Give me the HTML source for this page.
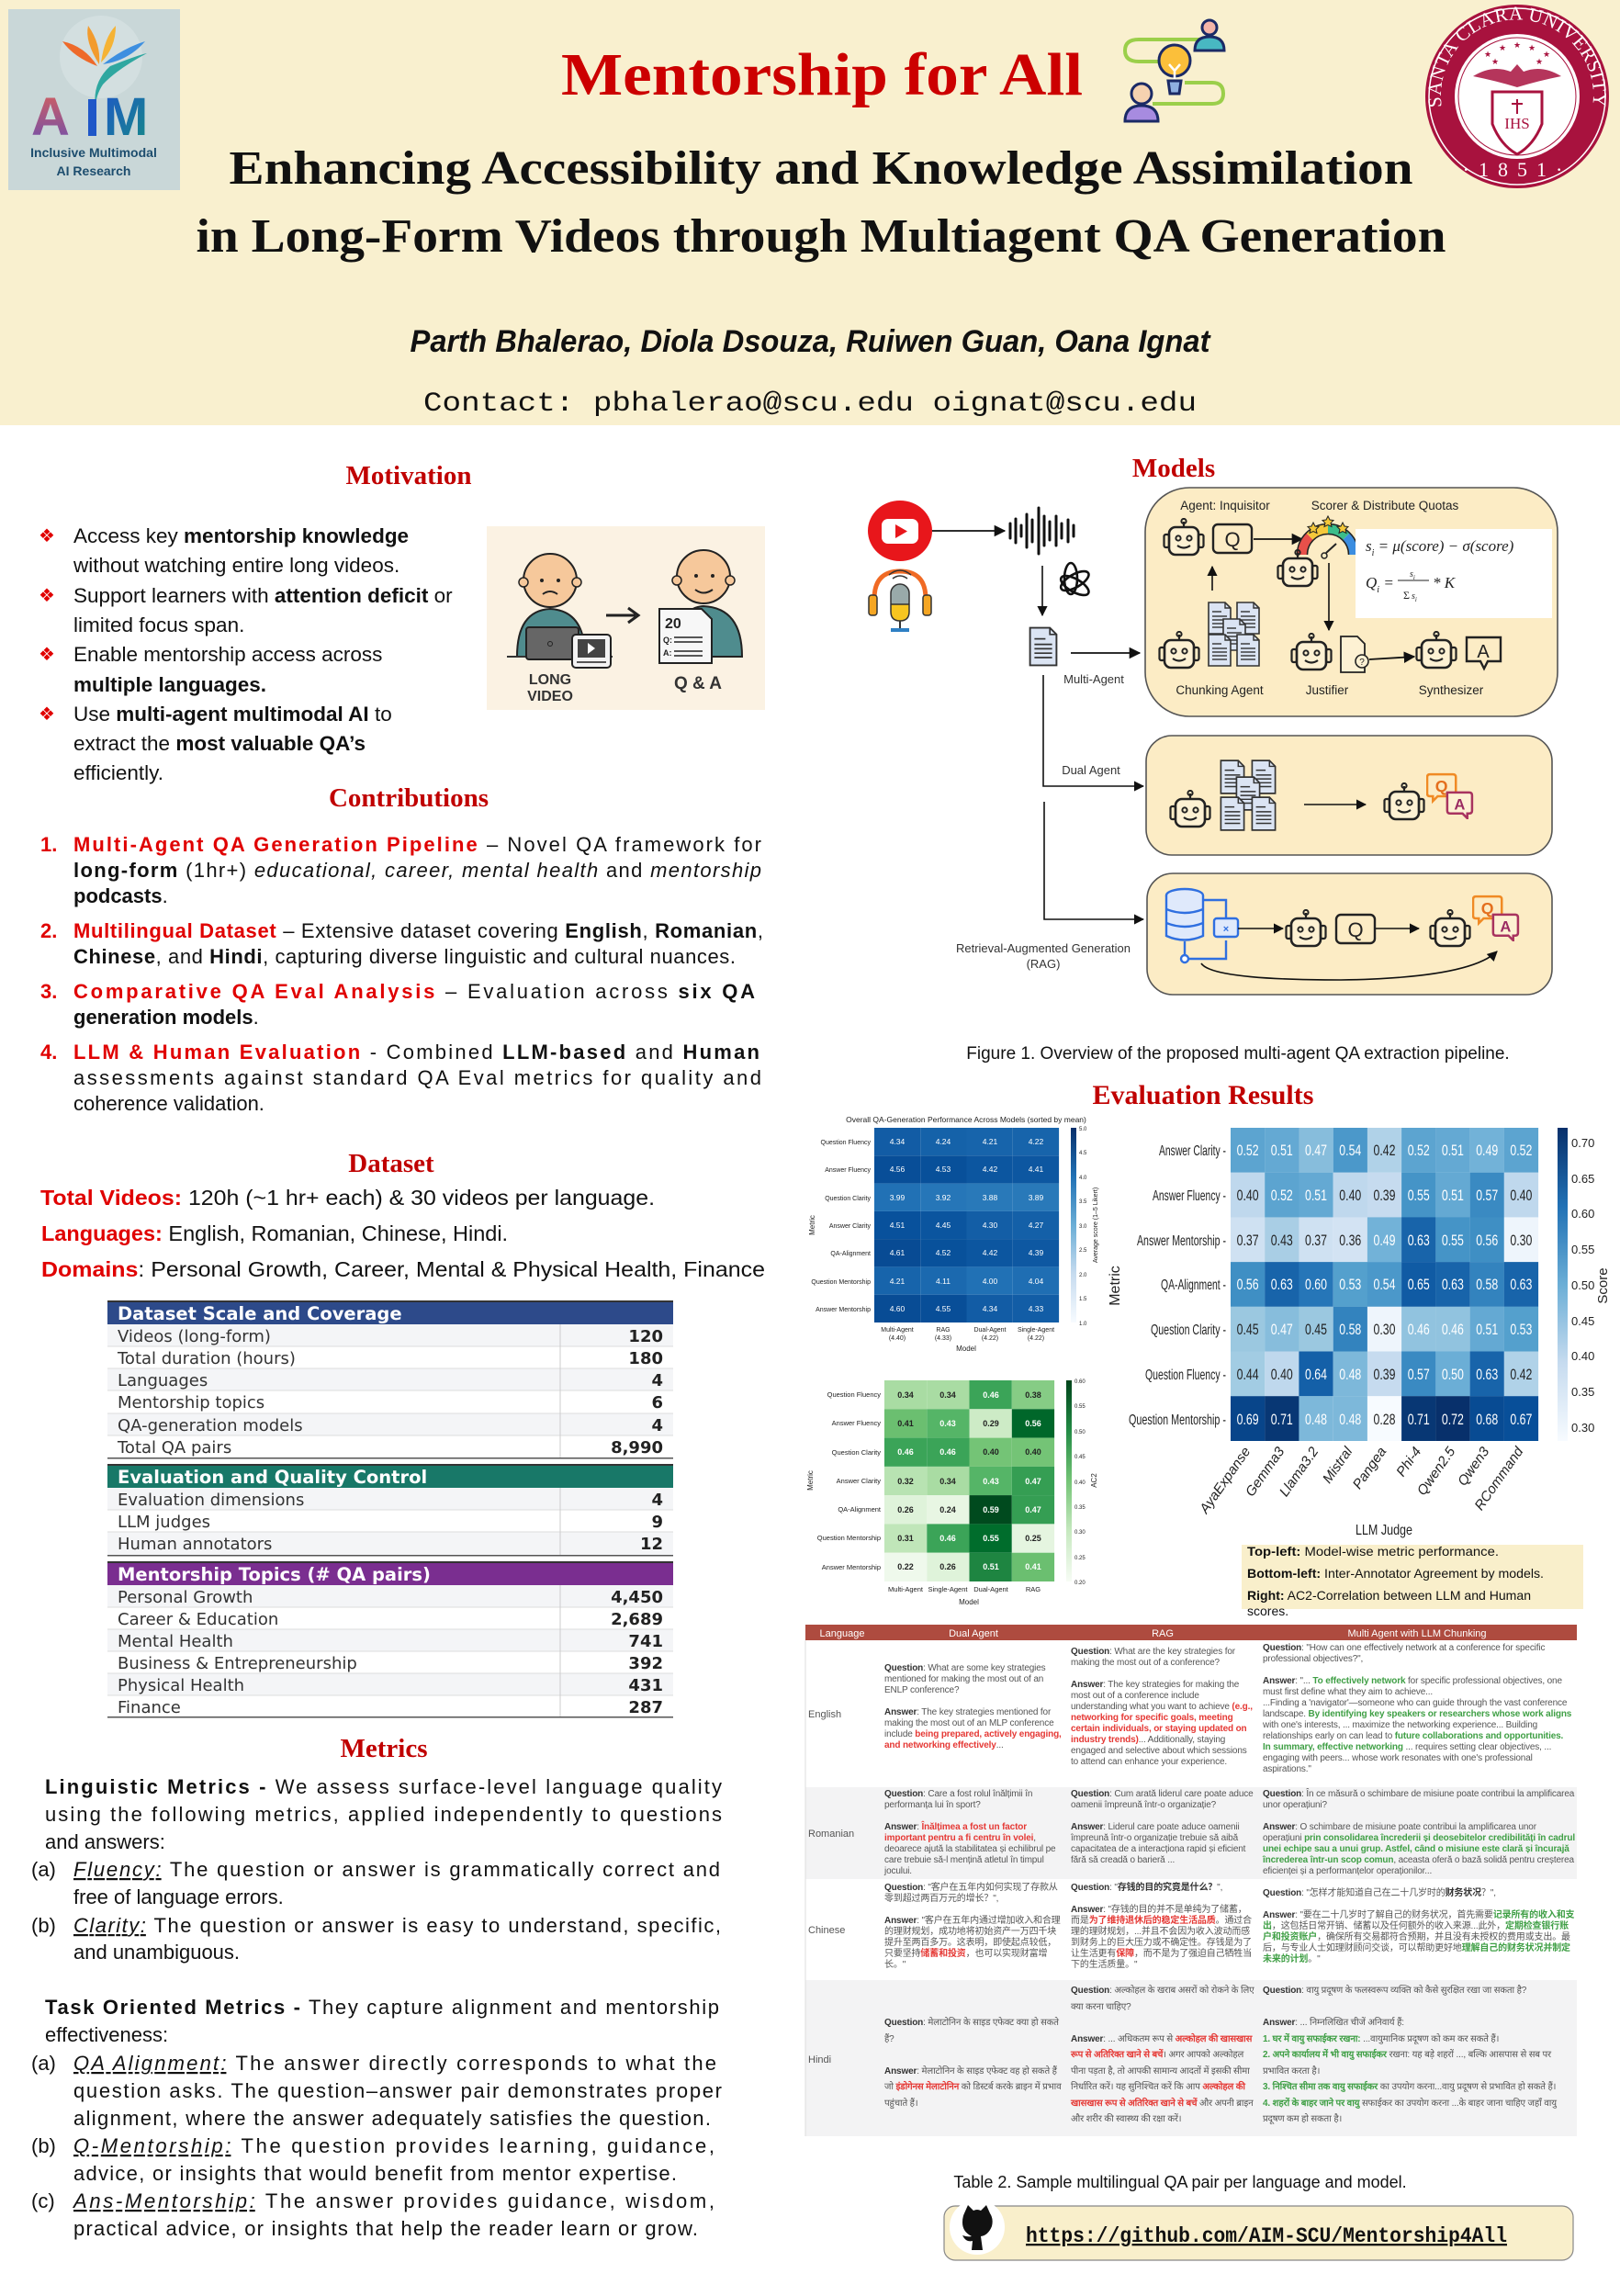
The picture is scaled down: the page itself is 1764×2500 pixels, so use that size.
<!DOCTYPE html>
<html><head><meta charset="utf-8">
<style>
html,body{margin:0;padding:0;background:#fff;}
#pg{position:relative;width:1764px;height:2500px;overflow:hidden;background:#fff;font-family:"Liberation Sans",sans-serif;}
#pg svg{position:absolute;left:0;top:0;}
.c{position:absolute;font-family:"Liberation Sans","Noto Sans CJK SC","Noto Sans CJK JP",sans-serif;font-size:10px;line-height:12px;color:#555;letter-spacing:-0.15px;}
.c b{color:#333;}
.r{color:#e53935;font-weight:bold;}
.g{color:#3f9f45;font-weight:bold;}
.hi{line-height:17.5px;}
</style></head><body><div id="pg">
<svg width="1764" height="2500" viewBox="0 0 1764 2500" xmlns="http://www.w3.org/2000/svg" font-family="Liberation Sans, sans-serif">
<defs>
<marker id="ar" viewBox="0 0 10 10" refX="9" refY="5" markerWidth="7" markerHeight="7" orient="auto"><path d="M0,0 L10,5 L0,10 z" fill="#111"/></marker>
<symbol id="rb" viewBox="0 0 50 46">
<line x1="25" y1="4" x2="25" y2="10" stroke="#222" stroke-width="2.2"/>
<circle cx="25" cy="3.5" r="2.6" fill="none" stroke="#222" stroke-width="2"/>
<rect x="9" y="10" width="32" height="30" rx="7" fill="#fdf1d3" stroke="#222" stroke-width="2.6"/>
<rect x="3.5" y="18" width="5.5" height="14" rx="2" fill="none" stroke="#222" stroke-width="2.2"/>
<rect x="41" y="18" width="5.5" height="14" rx="2" fill="none" stroke="#222" stroke-width="2.2"/>
<circle cx="19" cy="22" r="2.6" fill="none" stroke="#222" stroke-width="2"/>
<circle cx="31" cy="22" r="2.6" fill="none" stroke="#222" stroke-width="2"/>
<path d="M18 30 Q25 35 32 30" fill="none" stroke="#222" stroke-width="2.2"/>
</symbol>
<symbol id="doc" viewBox="0 0 30 40">
<path d="M3 3 H21 L27 9 V37 H3 Z" fill="#dbe4f3" stroke="#333" stroke-width="1.6"/>
<path d="M21 3 V9 H27" fill="none" stroke="#333" stroke-width="1.4"/>
<g stroke="#333" stroke-width="1.4"><line x1="7" y1="13" x2="17" y2="13"/><line x1="7" y1="18" x2="23" y2="18"/><line x1="7" y1="22" x2="23" y2="22"/><line x1="7" y1="26" x2="23" y2="26"/><line x1="7" y1="30" x2="23" y2="30"/></g>
</symbol>
<symbol id="qa" viewBox="0 0 50 50">
<path d="M4 3 H28 Q31 3 31 6 V23 Q31 26 28 26 H12 L7 31 V26 H4 Q1 26 1 23 V6 Q1 3 4 3 Z" fill="none" stroke="#f08a24" stroke-width="2.4"/>
<text x="16" y="21" text-anchor="middle" font-size="17" fill="#e46f1e" font-weight="bold">Q</text>
<path d="M22 22 H45 Q48 22 48 25 V41 Q48 44 45 44 H43 V49 L38 44 H25 Q22 44 22 41 Z" fill="#fdf1d3" stroke="#a8335f" stroke-width="2.4"/>
<text x="35" y="40" text-anchor="middle" font-size="16" fill="#9a2b62" font-weight="bold">A</text>
</symbol>
<linearGradient id="cbB" x1="0" y1="1" x2="0" y2="0"><stop offset="0" stop-color="#f7fbff"/><stop offset=".25" stop-color="#c6dbef"/><stop offset=".5" stop-color="#6baed6"/><stop offset=".75" stop-color="#2171b5"/><stop offset="1" stop-color="#08306b"/></linearGradient>
<linearGradient id="cbG" x1="0" y1="1" x2="0" y2="0"><stop offset="0" stop-color="#f7fcf5"/><stop offset=".25" stop-color="#c7e9c0"/><stop offset=".5" stop-color="#74c476"/><stop offset=".75" stop-color="#238b45"/><stop offset="1" stop-color="#00441b"/></linearGradient>
<linearGradient id="aimA" x1="0" y1="0" x2="0" y2="1"><stop offset="0" stop-color="#d9605a"/><stop offset="1" stop-color="#6b4fb0"/></linearGradient>
<linearGradient id="aimM" x1="0" y1="0" x2="1" y2="1"><stop offset="0" stop-color="#1f57c8"/><stop offset="1" stop-color="#168a86"/></linearGradient>
<path id="sealArc" d="M1577,140 A83,83 0 1,1 1727,140"/>
</defs>

<!-- HEADER -->
<rect x="0" y="0" width="1764" height="463" fill="#f9f0cf"/>
<rect x="9" y="10" width="187" height="197" fill="#c9d7d8"/>
<circle cx="110" cy="62" r="45" fill="#d3dfe0"/>
<path d="M108 70 Q92 45 96 28 Q110 48 108 70Z" fill="#f29b2e"/>
<path d="M110 68 Q114 40 126 28 Q126 52 110 68Z" fill="#f5b335"/>
<path d="M106 72 Q80 62 68 45 Q92 50 106 72Z" fill="#ee6a2a"/>
<path d="M112 70 Q135 52 158 45 Q140 66 112 70Z" fill="#3d8fe0"/>
<path d="M104 118 Q100 90 120 72 Q150 60 160 58 Q128 75 112 92 Q104 104 104 118Z" fill="#2fa7a0"/>
<text x="34" y="147" font-size="58" font-weight="bold" fill="url(#aimA)">A</text>
<rect x="96" y="108" width="9" height="40" fill="#1f57c8"/>
<text x="113" y="147" font-size="58" font-weight="bold" fill="url(#aimM)">M</text>
<text x="102" y="171" font-size="14" font-weight="bold" fill="#1d4d6e" text-anchor="middle">Inclusive Multimodal</text>
<text x="102" y="191" font-size="14" font-weight="bold" fill="#1d4d6e" text-anchor="middle">AI Research</text>

<text x="895" y="103" font-family="Liberation Serif, serif" font-weight="bold" font-size="66" fill="#cc0000" text-anchor="middle" textLength="568" lengthAdjust="spacingAndGlyphs">Mentorship for All</text>
<path d="M1312 43 H1240 Q1225 43 1225 55 Q1225 67 1240 67 H1262" fill="none" stroke="#9bcf4a" stroke-width="4"/>
<path d="M1290 90 H1320 Q1332 90 1332 102 Q1332 113 1320 113 H1255" fill="none" stroke="#9bcf4a" stroke-width="4"/>
<circle cx="1317" cy="30" r="8" fill="#f4b5a8" stroke="#1b2a66" stroke-width="3"/>
<path d="M1301 55 Q1301 40 1317 40 Q1333 40 1333 55 Z" fill="#48b8c2" stroke="#1b2a66" stroke-width="3"/>
<circle cx="1279" cy="66" r="17" fill="#fbbf3a" stroke="#1b2a66" stroke-width="3"/>
<path d="M1272 88 H1286 L1284 102 H1274 Z" fill="#8fb0e0" stroke="#1b2a66" stroke-width="3"/>
<path d="M1273 70 L1279 77 L1285 70 M1279 77 V86" stroke="#fff" stroke-width="2.5" fill="none"/>
<circle cx="1243" cy="102" r="11" fill="#f6d2b0" stroke="#1b2a66" stroke-width="3"/>
<path d="M1225 132 Q1225 115 1243 115 Q1261 115 1261 132 Z" fill="#a78be0" stroke="#1b2a66" stroke-width="3"/>

<text x="894" y="200" font-family="Liberation Serif, serif" font-weight="bold" font-size="52" fill="#111" text-anchor="middle" textLength="1289" lengthAdjust="spacingAndGlyphs">Enhancing Accessibility and Knowledge Assimilation</text>
<text x="894" y="274" font-family="Liberation Serif, serif" font-weight="bold" font-size="52" fill="#111" text-anchor="middle" textLength="1361" lengthAdjust="spacingAndGlyphs">in Long-Form Videos through Multiagent QA Generation</text>
<text x="882" y="383" font-weight="bold" font-style="italic" font-size="34" fill="#111" text-anchor="middle" textLength="871" lengthAdjust="spacingAndGlyphs">Parth Bhalerao, Diola Dsouza, Ruiwen Guan, Oana Ignat</text>
<text x="882" y="447" font-family="Liberation Mono, monospace" font-size="30" fill="#111" text-anchor="middle" textLength="842" lengthAdjust="spacingAndGlyphs">Contact: pbhalerao@scu.edu oignat@scu.edu</text>
<!-- SCU seal -->
<circle cx="1652" cy="105" r="100" fill="#a8123e"/>
<circle cx="1652" cy="105" r="96" fill="none" stroke="#fff" stroke-width="1.5"/>
<circle cx="1652" cy="105" r="68" fill="#fff"/>
<circle cx="1652" cy="105" r="64" fill="none" stroke="#a8123e" stroke-width="1"/>
<text font-family="Liberation Serif, serif" font-size="21" fill="#fff" letter-spacing="0.5"><textPath href="#sealArc" startOffset="50%" text-anchor="middle">SANTA CLARA UNIVERSITY</textPath></text>
<text x="1652" y="192" font-family="Liberation Serif, serif" font-size="22" fill="#fff" text-anchor="middle" letter-spacing="10">·1851·</text>
<path d="M1604 83 Q1625 70 1645 78 L1652 70 L1659 78 Q1679 70 1700 83 Q1675 88 1652 95 Q1629 88 1604 83Z" fill="#a8123e" opacity=".85"/>
<path d="M1625 100 H1679 V135 Q1670 158 1652 168 Q1634 158 1625 135 Z" fill="#fff" stroke="#a8123e" stroke-width="3"/>
<text x="1652" y="140" font-family="Liberation Serif, serif" font-size="17" fill="#a8123e" text-anchor="middle">IHS</text>
<line x1="1652" y1="108" x2="1652" y2="124" stroke="#a8123e" stroke-width="2"/><line x1="1646" y1="113" x2="1658" y2="113" stroke="#a8123e" stroke-width="2"/>
<g fill="#a8123e" font-size="9" text-anchor="middle"><text x="1620" y="62">★</text><text x="1636" y="55">★</text><text x="1652" y="52">★</text><text x="1668" y="55">★</text><text x="1684" y="62">★</text><text x="1628" y="70">★</text><text x="1676" y="70">★</text></g>

<g font-family="Liberation Serif, serif" font-weight="bold" font-size="29" fill="#c00000" text-anchor="middle">
<text x="445" y="527">Motivation</text>
<text x="445" y="878">Contributions</text>
<text x="426" y="1276">Dataset</text>
<text x="418" y="1913">Metrics</text>
<text x="1278" y="519">Models</text>
<text x="1310" y="1202" font-size="30">Evaluation Results</text>
</g>
<g font-size="22.5" fill="#111">
<g fill="#e00000" font-size="20"><text x="42" y="590">❖</text><text x="42" y="655">❖</text><text x="42" y="719">❖</text><text x="42" y="784">❖</text></g>
<text x="80" y="591">Access key <tspan font-weight="bold">mentorship knowledge</tspan></text>
<text x="80" y="623">without watching entire long videos.</text>
<text x="80" y="656">Support learners with <tspan font-weight="bold">attention deficit</tspan> or</text>
<text x="80" y="688">limited focus span.</text>
<text x="80" y="720">Enable mentorship access across</text>
<text x="80" y="753" font-weight="bold">multiple languages.</text>
<text x="80" y="785">Use <tspan font-weight="bold">multi-agent multimodal AI</tspan> to</text>
<text x="80" y="817">extract the <tspan font-weight="bold">most valuable QA’s</tspan></text>
<text x="80" y="849">efficiently.</text>
</g>
<rect x="530" y="573" width="303" height="200" fill="#fbf2e3"/>
<path d="M563 715 Q563 665 599 663 Q637 665 637 715Z" fill="#4f8c8e" stroke="#222" stroke-width="2"/>
<circle cx="599" cy="632" r="29" fill="#f6c89b" stroke="#222" stroke-width="2"/>
<circle cx="570" cy="634" r="5" fill="#f6c89b" stroke="#222" stroke-width="1.5"/><circle cx="628" cy="634" r="5" fill="#f6c89b" stroke="#222" stroke-width="1.5"/>
<circle cx="590" cy="632" r="2" fill="#222"/><circle cx="608" cy="632" r="2" fill="#222"/>
<path d="M591 647 Q599 641 607 647" fill="none" stroke="#222" stroke-width="2"/>
<line x1="552" y1="715" x2="667" y2="715" stroke="#333" stroke-width="2"/>
<rect x="573" y="683" width="57" height="35" rx="3" fill="#666" stroke="#222" stroke-width="2"/>
<circle cx="599" cy="701" r="2.5" fill="none" stroke="#222"/>
<rect x="623" y="691" width="42" height="36" rx="4" fill="#f3f3f3" stroke="#222" stroke-width="2"/>
<rect x="629" y="696" width="30" height="20" fill="#444"/><path d="M640 700 L648 706 L640 712Z" fill="#fff"/>
<line x1="628" y1="721" x2="660" y2="721" stroke="#222" stroke-width="1.5"/>
<text x="599" y="745" font-size="16" font-weight="bold" fill="#333" text-anchor="middle">LONG</text>
<text x="599" y="763" font-size="16" font-weight="bold" fill="#333" text-anchor="middle">VIDEO</text>
<line x1="660" y1="670" x2="692" y2="670" stroke="#222" stroke-width="3"/><path d="M684 662 L695 670 L684 678" fill="none" stroke="#222" stroke-width="3"/>
<path d="M735 715 Q735 662 766 660 Q808 662 808 715Z" fill="#4f8c8e" stroke="#222" stroke-width="2"/>
<circle cx="766" cy="628" r="29" fill="#f6c89b" stroke="#222" stroke-width="2"/>
<circle cx="737" cy="632" r="5" fill="#f6c89b" stroke="#222" stroke-width="1.5"/><circle cx="795" cy="632" r="5" fill="#f6c89b" stroke="#222" stroke-width="1.5"/>
<circle cx="758" cy="627" r="2" fill="#222"/><circle cx="776" cy="627" r="2" fill="#222"/>
<path d="M757 642 Q766 649 776 642" fill="none" stroke="#222" stroke-width="2"/>
<path d="M718 663 H764 L775 674 V722 H718Z" fill="#f7f7f7" stroke="#222" stroke-width="2"/>
<text x="724" y="684" font-size="16" font-weight="bold" fill="#222">20</text>
<text x="722" y="700" font-size="9" font-weight="bold" fill="#222">Q:</text><text x="722" y="714" font-size="9" font-weight="bold" fill="#222">A:</text>
<g stroke="#222" stroke-width="1.4"><line x1="734" y1="694" x2="765" y2="694"/><line x1="734" y1="699" x2="765" y2="699"/><line x1="734" y1="709" x2="765" y2="709"/><line x1="734" y1="714" x2="765" y2="714"/></g>
<text x="760" y="750" font-size="19" font-weight="bold" fill="#333" text-anchor="middle">Q &amp; A</text>

<g font-size="22" fill="#111">
<g fill="#e00000" font-weight="bold"><text x="44" y="927">1.</text><text x="44" y="1021">2.</text><text x="44" y="1087">3.</text><text x="44" y="1153">4.</text></g>
<text x="80" y="927" textLength="749" lengthAdjust="spacing"><tspan fill="#e00000" font-weight="bold">Multi-Agent QA Generation Pipeline</tspan> – Novel QA framework for</text>
<text x="80" y="955" textLength="749" lengthAdjust="spacing"><tspan font-weight="bold">long-form</tspan> (1hr+) <tspan font-style="italic">educational, career, mental health</tspan> and <tspan font-style="italic">mentorship</tspan></text>
<text x="80" y="983"><tspan font-weight="bold">podcasts</tspan>.</text>
<text x="80" y="1021" textLength="751" lengthAdjust="spacing"><tspan fill="#e00000" font-weight="bold">Multilingual Dataset</tspan> – Extensive dataset covering <tspan font-weight="bold">English</tspan>, <tspan font-weight="bold">Romanian</tspan>,</text>
<text x="80" y="1049" textLength="721" lengthAdjust="spacing"><tspan font-weight="bold">Chinese</tspan>, and <tspan font-weight="bold">Hindi</tspan>, capturing diverse linguistic and cultural nuances.</text>
<text x="80" y="1087" textLength="742" lengthAdjust="spacing"><tspan fill="#e00000" font-weight="bold">Comparative QA Eval Analysis</tspan> – Evaluation across <tspan font-weight="bold">six QA</tspan></text>
<text x="80" y="1115"><tspan font-weight="bold">generation models</tspan>.</text>
<text x="80" y="1153" textLength="747" lengthAdjust="spacing"><tspan fill="#e00000" font-weight="bold">LLM &amp; Human Evaluation</tspan> - Combined <tspan font-weight="bold">LLM-based</tspan> and <tspan font-weight="bold">Human</tspan></text>
<text x="80" y="1181" textLength="749" lengthAdjust="spacing">assessments against standard QA Eval metrics for quality and</text>
<text x="80" y="1209">coherence validation.</text>
</g>
<g font-size="23.5" fill="#111">
<text x="44" y="1312" textLength="669" lengthAdjust="spacingAndGlyphs"><tspan fill="#e00000" font-weight="bold">Total Videos:</tspan> 120h (~1 hr+ each) &amp; 30 videos per language.</text>
<text x="45" y="1351"><tspan fill="#e00000" font-weight="bold">Languages:</tspan> English, Romanian, Chinese, Hindi.</text>
<text x="45" y="1390" textLength="788" lengthAdjust="spacingAndGlyphs"><tspan fill="#e00000" font-weight="bold">Domains</tspan>: Personal Growth, Career, Mental &amp; Physical Health, Finance</text>
</g>
<g font-family="DejaVu Sans, sans-serif" font-size="18">
<rect x="117" y="1416" width="616" height="2.5" fill="#333"/>
<rect x="117" y="1418" width="616" height="24" fill="#2d4a8a"/>
<text x="128" y="1437" fill="#fff" font-weight="bold" font-size="19.5">Dataset Scale and Coverage</text>
<g fill="#f4f5f7"><rect x="117" y="1442" width="616" height="24"/><rect x="117" y="1490" width="616" height="24"/><rect x="117" y="1539" width="616" height="24"/></g>
<g stroke="#ddd"><line x1="117" y1="1466" x2="733" y2="1466"/><line x1="117" y1="1490" x2="733" y2="1490"/><line x1="117" y1="1514" x2="733" y2="1514"/><line x1="117" y1="1539" x2="733" y2="1539"/><line x1="117" y1="1563" x2="733" y2="1563"/></g>
<line x1="610" y1="1442" x2="610" y2="1587" stroke="#ccc"/>
<rect x="117" y="1587" width="616" height="1.5" fill="#555"/>
<g fill="#333"><text x="128" y="1461">Videos (long-form)</text><text x="128" y="1485">Total duration (hours)</text><text x="128" y="1509">Languages</text><text x="128" y="1533">Mentorship topics</text><text x="128" y="1558">QA-generation models</text><text x="128" y="1582">Total QA pairs</text></g>
<g fill="#222" font-weight="bold" text-anchor="end"><text x="722" y="1461">120</text><text x="722" y="1485">180</text><text x="722" y="1509">4</text><text x="722" y="1533">6</text><text x="722" y="1558">4</text><text x="722" y="1582">8,990</text></g>
<rect x="117" y="1594" width="616" height="2.5" fill="#333"/>
<rect x="117" y="1596" width="616" height="24" fill="#187868"/>
<text x="128" y="1615" fill="#fff" font-weight="bold" font-size="19.5">Evaluation and Quality Control</text>
<g fill="#f4f5f7"><rect x="117" y="1620" width="616" height="24"/><rect x="117" y="1668" width="616" height="25"/></g>
<g stroke="#ddd"><line x1="117" y1="1644" x2="733" y2="1644"/><line x1="117" y1="1668" x2="733" y2="1668"/></g>
<line x1="610" y1="1620" x2="610" y2="1693" stroke="#ccc"/>
<rect x="117" y="1693" width="616" height="1.5" fill="#555"/>
<g fill="#333"><text x="128" y="1639">Evaluation dimensions</text><text x="128" y="1663">LLM judges</text><text x="128" y="1687">Human annotators</text></g>
<g fill="#222" font-weight="bold" text-anchor="end"><text x="722" y="1639">4</text><text x="722" y="1663">9</text><text x="722" y="1687">12</text></g>
<rect x="117" y="1700" width="616" height="2.5" fill="#333"/>
<rect x="117" y="1702" width="616" height="24" fill="#7a2e90"/>
<text x="128" y="1721" fill="#fff" font-weight="bold" font-size="19.5">Mentorship Topics (# QA pairs)</text>
<g fill="#f4f5f7"><rect x="117" y="1726" width="616" height="24"/><rect x="117" y="1774" width="616" height="24"/><rect x="117" y="1822" width="616" height="24"/></g>
<g stroke="#ddd"><line x1="117" y1="1750" x2="733" y2="1750"/><line x1="117" y1="1774" x2="733" y2="1774"/><line x1="117" y1="1798" x2="733" y2="1798"/><line x1="117" y1="1822" x2="733" y2="1822"/><line x1="117" y1="1846" x2="733" y2="1846"/></g>
<line x1="610" y1="1726" x2="610" y2="1870" stroke="#ccc"/>
<rect x="117" y="1869" width="616" height="1.5" fill="#555"/>
<g fill="#333"><text x="128" y="1745">Personal Growth</text><text x="128" y="1769">Career &amp; Education</text><text x="128" y="1793">Mental Health</text><text x="128" y="1817">Business &amp; Entrepreneurship</text><text x="128" y="1841">Physical Health</text><text x="128" y="1865">Finance</text></g>
<g fill="#222" font-weight="bold" text-anchor="end"><text x="722" y="1745">4,450</text><text x="722" y="1769">2,689</text><text x="722" y="1793">741</text><text x="722" y="1817">392</text><text x="722" y="1841">431</text><text x="722" y="1865">287</text></g>
</g>
<g font-size="22" fill="#111">
<text x="49" y="1953" textLength="737" lengthAdjust="spacing"><tspan font-weight="bold">Linguistic Metrics -</tspan> We assess surface-level language quality</text>
<text x="49" y="1983" textLength="737" lengthAdjust="spacing">using the following metrics, applied independently to questions</text>
<text x="49" y="2013">and answers:</text>
<text x="34" y="2043">(a)</text>
<text x="80" y="2043" textLength="704" lengthAdjust="spacing"><tspan font-style="italic" text-decoration="underline">Fluency:</tspan> The question or answer is grammatically correct and</text>
<text x="80" y="2073">free of language errors.</text>
<text x="34" y="2104">(b)</text>
<text x="80" y="2104" textLength="705" lengthAdjust="spacing"><tspan font-style="italic" text-decoration="underline">Clarity:</tspan> The question or answer is easy to understand, specific,</text>
<text x="80" y="2133">and unambiguous.</text>
<text x="49" y="2193" textLength="734" lengthAdjust="spacing"><tspan font-weight="bold">Task Oriented Metrics -</tspan> They capture alignment and mentorship</text>
<text x="49" y="2223">effectiveness:</text>
<text x="34" y="2254">(a)</text>
<text x="80" y="2254" textLength="700" lengthAdjust="spacing"><tspan font-style="italic" text-decoration="underline">QA Alignment:</tspan> The answer directly corresponds to what the</text>
<text x="80" y="2284" textLength="706" lengthAdjust="spacing">question asks. The question–answer pair demonstrates proper</text>
<text x="80" y="2314" textLength="694" lengthAdjust="spacing">alignment, where the answer adequately satisfies the question.</text>
<text x="34" y="2344">(b)</text>
<text x="80" y="2344" textLength="698" lengthAdjust="spacing"><tspan font-style="italic" text-decoration="underline">Q-Mentorship:</tspan> The question provides learning, guidance,</text>
<text x="80" y="2374" textLength="657" lengthAdjust="spacing">advice, or insights that would benefit from mentor expertise.</text>
<text x="34" y="2404">(c)</text>
<text x="80" y="2404" textLength="698" lengthAdjust="spacing"><tspan font-style="italic" text-decoration="underline">Ans-Mentorship:</tspan> The answer provides guidance, wisdom,</text>
<text x="80" y="2434" textLength="680" lengthAdjust="spacing">practical advice, or insights that help the reader learn or grow.</text>
</g>

<!-- MODELS PIPELINE -->
<rect x="1247" y="531" width="449" height="249" rx="48" fill="#fcecc5" stroke="#555" stroke-width="1.6"/>
<rect x="1248" y="801" width="442" height="130" rx="28" fill="#fcecc5" stroke="#555" stroke-width="1.6"/>
<rect x="1249" y="951" width="441" height="132" rx="28" fill="#fcecc5" stroke="#555" stroke-width="1.6"/>
<ellipse cx="980" cy="578" rx="35" ry="33" fill="#e8161b"/>
<rect x="960" y="565" width="40" height="27" rx="7" fill="#fff"/>
<path d="M975 571 L988 578.5 L975 586Z" fill="#e8161b"/>
<line x1="1015" y1="578" x2="1094" y2="578" stroke="#111" stroke-width="1.8" marker-end="url(#ar)"/>
<path d="M952 668 V652 Q952 622 980 622 Q1008 622 1008 652 V668" fill="none" stroke="#f06a24" stroke-width="5"/>
<rect x="946" y="648" width="9" height="22" rx="3" fill="#f5a623" stroke="#333" stroke-width="1.5"/>
<rect x="1005" y="648" width="9" height="22" rx="3" fill="#f5a623" stroke="#333" stroke-width="1.5"/>
<rect x="970" y="636" width="20" height="30" rx="10" fill="#9aa" stroke="#333" stroke-width="1.5"/>
<path d="M970 658 H990 V666 Q990 676 980 676 Q970 676 970 666Z" fill="#f7c520" stroke="#333" stroke-width="1.5"/>
<line x1="980" y1="676" x2="980" y2="684" stroke="#333" stroke-width="2"/><rect x="970" y="684" width="20" height="4" fill="#2f80c4"/>
<path d="M972 630 Q980 624 988 630 M968 626 Q980 616 992 626" fill="none" stroke="#333" stroke-width="1.5"/>
<g stroke="#111" stroke-width="3" stroke-linecap="round">
<line x1="1100" y1="570" x2="1100" y2="586"/><line x1="1106" y1="565" x2="1106" y2="591"/><line x1="1112" y1="572" x2="1112" y2="584"/><line x1="1118" y1="560" x2="1118" y2="596"/><line x1="1124" y1="566" x2="1124" y2="590"/><line x1="1131" y1="553" x2="1131" y2="603"/><line x1="1137" y1="562" x2="1137" y2="594"/><line x1="1143" y1="568" x2="1143" y2="588"/><line x1="1150" y1="562" x2="1150" y2="594"/><line x1="1156" y1="570" x2="1156" y2="586"/><line x1="1163" y1="566" x2="1163" y2="590"/><line x1="1169" y1="572" x2="1169" y2="584"/>
</g>
<line x1="1135" y1="616" x2="1135" y2="670" stroke="#111" stroke-width="1.6" marker-end="url(#ar)"/>
<g transform="translate(1166,635)" fill="none" stroke="#111" stroke-width="2.6">
<ellipse rx="7" ry="17" transform="rotate(0) translate(0,-5)"/><ellipse rx="7" ry="17" transform="rotate(60) translate(0,-5)"/><ellipse rx="7" ry="17" transform="rotate(120) translate(0,-5)"/>
</g>
<use href="#doc" x="1117" y="680" width="38" height="48"/>
<line x1="1166" y1="711" x2="1241" y2="711" stroke="#111" stroke-width="1.8" marker-end="url(#ar)"/>
<path d="M1136 735 V856 H1245" fill="none" stroke="#111" stroke-width="1.6" marker-end="url(#ar)"/>
<path d="M1137 873 V1001 H1245" fill="none" stroke="#111" stroke-width="1.6" marker-end="url(#ar)"/>
<g font-size="13" fill="#333" text-anchor="middle">
<text x="1191" y="744">Multi-Agent</text>
<text x="1188" y="843">Dual Agent</text>
<text x="1136" y="1037">Retrieval-Augmented Generation</text>
<text x="1136" y="1054">(RAG)</text>
</g>
<g font-size="13.5" fill="#222" text-anchor="middle">
<text x="1334" y="555">Agent: Inquisitor</text>
<text x="1508" y="555">Scorer &amp; Distribute Quotas</text>
<text x="1328" y="756">Chunking Agent</text>
<text x="1445" y="756">Justifier</text>
<text x="1580" y="756">Synthesizer</text>
</g>
<use href="#rb" x="1264" y="564" width="50" height="46"/>
<rect x="1321" y="571" width="42" height="31" rx="5" fill="none" stroke="#222" stroke-width="2.4"/>
<text x="1342" y="595" font-size="22" fill="#222" text-anchor="middle">Q</text>
<line x1="1365" y1="587" x2="1418" y2="587" stroke="#111" stroke-width="1.8" marker-end="url(#ar)"/>
<g transform="translate(1446,604)" fill="none" stroke-width="11">
<path d="M-28 0 A28 28 0 0 1 -19.8 -19.8" stroke="#e8504a"/>
<path d="M-19.8 -19.8 A28 28 0 0 1 0 -28" stroke="#f5c83a"/>
<path d="M0 -28 A28 28 0 0 1 19.8 -19.8" stroke="#3bbd8a"/>
<path d="M19.8 -19.8 A28 28 0 0 1 28 0" stroke="#3b8de0"/>
<path d="M-33.5 0 A33.5 33.5 0 0 1 33.5 0 M-22.5 0 A22.5 22.5 0 0 1 22.5 0" stroke="#222" stroke-width="1.5"/>
<line x1="-2" y1="-2" x2="9" y2="-12" stroke="#222" stroke-width="2"/>
<circle cx="-4" cy="1" r="3" stroke="#222" stroke-width="1.5"/>
</g>
<g fill="#f5c83a" stroke="#222" stroke-width="1"><path d="M1430 569 l2 4 4 .5 -3 3 1 4 -4 -2 -4 2 1 -4 -3 -3 4 -.5z"/><path d="M1446 562 l2 4 4 .5 -3 3 1 4 -4 -2 -4 2 1 -4 -3 -3 4 -.5z"/><path d="M1462 569 l2 4 4 .5 -3 3 1 4 -4 -2 -4 2 1 -4 -3 -3 4 -.5z"/></g>
<use href="#rb" x="1388" y="598" width="50" height="46"/>
<rect x="1476" y="576" width="214" height="97" fill="#fff"/>
<g font-family="Liberation Serif, serif" font-size="17" fill="#222" font-style="italic">
<text x="1487" y="600">s<tspan font-size="10" dy="5">i</tspan><tspan dy="-5"> =  μ(score) −  σ(score)</tspan></text>
<text x="1487" y="640">Q<tspan font-size="10" dy="5">i</tspan><tspan dy="-5"> =</tspan></text>
<text x="1535" y="628" font-size="10">s<tspan font-size="7" dy="3">i</tspan></text>
<line x1="1522" y1="632" x2="1556" y2="632" stroke="#222" stroke-width="1"/>
<text x="1560" y="640">* K</text>
<text x="1528" y="652" font-size="12" font-style="normal">Σ</text><text x="1537" y="652" font-size="10">s<tspan font-size="7" dy="3">i</tspan></text>
</g>
<line x1="1320" y1="643" x2="1320" y2="617" stroke="#111" stroke-width="1.6" marker-end="url(#ar)"/>
<line x1="1447" y1="613" x2="1447" y2="686" stroke="#111" stroke-width="1.6" marker-end="url(#ar)"/>
<use href="#doc" x="1313" y="653" width="30" height="40"/>
<use href="#doc" x="1344" y="653" width="30" height="40"/>
<use href="#doc" x="1329" y="671" width="30" height="40"/>
<use href="#doc" x="1313" y="688" width="30" height="40"/>
<use href="#doc" x="1344" y="688" width="30" height="40"/>
<use href="#rb" x="1259" y="687" width="50" height="46"/>
<use href="#rb" x="1403" y="689" width="50" height="46"/>
<path d="M1460 693 H1478 L1486 701 V732 H1460Z" fill="#fdf1d3" stroke="#222" stroke-width="1.8"/>
<circle cx="1483" cy="720" r="7" fill="#fdf1d3" stroke="#222" stroke-width="1.6"/><text x="1483" y="724" font-size="10" text-anchor="middle" fill="#222">?</text>
<line x1="1491" y1="718" x2="1540" y2="715" stroke="#111" stroke-width="1.8" marker-end="url(#ar)"/>
<use href="#rb" x="1539" y="687" width="50" height="46"/>
<path d="M1597 694 H1634 V720 H1620 L1616 728 L1612 720 H1597Z" fill="none" stroke="#222" stroke-width="2.4"/>
<text x="1615" y="716" font-size="20" fill="#222" text-anchor="middle">A</text>
<use href="#doc" x="1326" y="825" width="32" height="42"/><use href="#doc" x="1360" y="825" width="32" height="42"/>
<use href="#doc" x="1343" y="843" width="32" height="42"/>
<use href="#doc" x="1326" y="865" width="32" height="42"/><use href="#doc" x="1360" y="865" width="32" height="42"/>
<use href="#rb" x="1271" y="860" width="50" height="46"/>
<line x1="1420" y1="876" x2="1487" y2="876" stroke="#111" stroke-width="1.6" marker-end="url(#ar)"/>
<use href="#rb" x="1504" y="852" width="50" height="46"/>
<use href="#qa" x="1553" y="840" width="52" height="52"/>
<g fill="#dfe9fb" stroke="#2f6fe0" stroke-width="2.4">
<ellipse cx="1290" cy="975" rx="20" ry="7"/>
<path d="M1270 975 V1019 Q1290 1028 1310 1019 V975"/>
<path d="M1270 990 Q1290 998 1310 990 M1270 1005 Q1290 1013 1310 1005" fill="none"/>
<path d="M1310 980 H1335 V1010 M1290 1025 V1040 M1294 1044 H1335 V1024" fill="none"/>
<circle cx="1290" cy="1044" r="4" fill="#fff"/>
<rect x="1322" y="1000" width="26" height="20" rx="3"/>
</g>
<text x="1335" y="1015" font-size="11" fill="#2f6fe0" text-anchor="middle" font-weight="bold">×</text>
<line x1="1348" y1="1011" x2="1397" y2="1011" stroke="#111" stroke-width="1.6" marker-end="url(#ar)"/>
<use href="#rb" x="1397" y="990" width="50" height="46"/>
<rect x="1455" y="996" width="42" height="31" rx="5" fill="none" stroke="#222" stroke-width="2.4"/>
<text x="1476" y="1020" font-size="22" fill="#222" text-anchor="middle">Q</text>
<line x1="1498" y1="1011" x2="1545" y2="1011" stroke="#111" stroke-width="1.6" marker-end="url(#ar)"/>
<use href="#rb" x="1554" y="990" width="50" height="46"/>
<use href="#qa" x="1603" y="973" width="52" height="52"/>
<path d="M1308 1049 Q1320 1067 1460 1067 Q1600 1065 1630 1036" fill="none" stroke="#111" stroke-width="1.6" marker-end="url(#ar)"/>
<text x="1348" y="1153" font-size="19" fill="#111" text-anchor="middle">Figure 1. Overview of the proposed multi-agent QA extraction pipeline.</text>

<!-- HEATMAP 1 -->
<text x="1052" y="1222" font-size="8.5" fill="#222" text-anchor="middle">Overall QA-Generation Performance Across Models (sorted by mean)</text>
<g>
<rect x="952" y="1228" width="50.3" height="30.3" fill="#125ca5"/><rect x="1002.3" y="1228" width="50.3" height="30.3" fill="#1562a9"/><rect x="1052.5" y="1228" width="50.3" height="30.3" fill="#1764ab"/><rect x="1102.8" y="1228" width="50.3" height="30.3" fill="#1764ab"/>
<rect x="952" y="1258.3" width="50.3" height="30.3" fill="#084e98"/><rect x="1002.3" y="1258.3" width="50.3" height="30.3" fill="#08509a"/><rect x="1052.5" y="1258.3" width="50.3" height="30.3" fill="#0c56a0"/><rect x="1102.8" y="1258.3" width="50.3" height="30.3" fill="#0d57a1"/>
<rect x="952" y="1288.6" width="50.3" height="30.3" fill="#2171b5"/><rect x="1002.3" y="1288.6" width="50.3" height="30.3" fill="#2676b8"/><rect x="1052.5" y="1288.6" width="50.3" height="30.3" fill="#2979b9"/><rect x="1102.8" y="1288.6" width="50.3" height="30.3" fill="#2979b9"/>
<rect x="952" y="1318.9" width="50.3" height="30.3" fill="#08519c"/><rect x="1002.3" y="1318.9" width="50.3" height="30.3" fill="#0b559f"/><rect x="1052.5" y="1318.9" width="50.3" height="30.3" fill="#135ea6"/><rect x="1102.8" y="1318.9" width="50.3" height="30.3" fill="#1460a8"/>
<rect x="952" y="1349.1" width="50.3" height="30.3" fill="#084b94"/><rect x="1002.3" y="1349.1" width="50.3" height="30.3" fill="#08519b"/><rect x="1052.5" y="1349.1" width="50.3" height="30.3" fill="#0c56a0"/><rect x="1102.8" y="1349.1" width="50.3" height="30.3" fill="#0e58a2"/>
<rect x="952" y="1379.4" width="50.3" height="30.3" fill="#1764ab"/><rect x="1002.3" y="1379.4" width="50.3" height="30.3" fill="#1b69af"/><rect x="1052.5" y="1379.4" width="50.3" height="30.3" fill="#2171b5"/><rect x="1102.8" y="1379.4" width="50.3" height="30.3" fill="#1f6eb3"/>
<rect x="952" y="1409.7" width="50.3" height="30.3" fill="#084c95"/><rect x="1002.3" y="1409.7" width="50.3" height="30.3" fill="#084e98"/><rect x="1052.5" y="1409.7" width="50.3" height="30.3" fill="#125ca5"/><rect x="1102.8" y="1409.7" width="50.3" height="30.3" fill="#125da6"/>
</g>
<g font-size="8.5" fill="#fff" text-anchor="middle">
<text x="977" y="1246">4.34</text><text x="1027" y="1246">4.24</text><text x="1078" y="1246">4.21</text><text x="1128" y="1246">4.22</text>
<text x="977" y="1276">4.56</text><text x="1027" y="1276">4.53</text><text x="1078" y="1276">4.42</text><text x="1128" y="1276">4.41</text>
<text x="977" y="1307">3.99</text><text x="1027" y="1307">3.92</text><text x="1078" y="1307">3.88</text><text x="1128" y="1307">3.89</text>
<text x="977" y="1337">4.51</text><text x="1027" y="1337">4.45</text><text x="1078" y="1337">4.30</text><text x="1128" y="1337">4.27</text>
<text x="977" y="1367">4.61</text><text x="1027" y="1367">4.52</text><text x="1078" y="1367">4.42</text><text x="1128" y="1367">4.39</text>
<text x="977" y="1398">4.21</text><text x="1027" y="1398">4.11</text><text x="1078" y="1398">4.00</text><text x="1128" y="1398">4.04</text>
<text x="977" y="1428">4.60</text><text x="1027" y="1428">4.55</text><text x="1078" y="1428">4.34</text><text x="1128" y="1428">4.33</text>
</g>
<g font-size="7" fill="#222" text-anchor="end">
<text x="948" y="1246">Question Fluency</text><text x="948" y="1276">Answer Fluency</text><text x="948" y="1307">Question Clarity</text><text x="948" y="1337">Answer Clarity</text><text x="948" y="1367">QA-Alignment</text><text x="948" y="1398">Question Mentorship</text><text x="948" y="1428">Answer Mentorship</text>
</g>
<g font-size="7" fill="#222" text-anchor="middle">
<text x="977" y="1450">Multi-Agent</text><text x="977" y="1459">(4.40)</text><text x="1027" y="1450">RAG</text><text x="1027" y="1459">(4.33)</text><text x="1078" y="1450">Dual-Agent</text><text x="1078" y="1459">(4.22)</text><text x="1128" y="1450">Single-Agent</text><text x="1128" y="1459">(4.22)</text>
<text x="1052" y="1471" font-size="8">Model</text>
<text transform="translate(887,1334) rotate(-90)" font-size="8">Metric</text>
<text transform="translate(1195,1334) rotate(-90)" font-size="7">Average score (1–5 Likert)</text>
</g>
<rect x="1166" y="1228" width="6" height="212" fill="url(#cbB)"/>
<g font-size="6" fill="#222"><text x="1175" y="1231">5.0</text><text x="1175" y="1257">4.5</text><text x="1175" y="1284">4.0</text><text x="1175" y="1310">3.5</text><text x="1175" y="1337">3.0</text><text x="1175" y="1363">2.5</text><text x="1175" y="1390">2.0</text><text x="1175" y="1416">1.5</text><text x="1175" y="1443">1.0</text></g>

<!-- HEATMAP 2 -->
<g>
<rect x="963" y="1503" width="46.3" height="31.3" fill="#a9dca3"/><rect x="1009.3" y="1503" width="46.3" height="31.3" fill="#a9dca3"/><rect x="1055.5" y="1503" width="46.3" height="31.3" fill="#3ba458"/><rect x="1101.8" y="1503" width="46.3" height="31.3" fill="#86cc85"/>
<rect x="963" y="1534.3" width="46.3" height="31.3" fill="#6bbf70"/><rect x="1009.3" y="1534.3" width="46.3" height="31.3" fill="#55b567"/><rect x="1055.5" y="1534.3" width="46.3" height="31.3" fill="#cdebc6"/><rect x="1101.8" y="1534.3" width="46.3" height="31.3" fill="#00672a"/>
<rect x="963" y="1565.6" width="46.3" height="31.3" fill="#3ba458"/><rect x="1009.3" y="1565.6" width="46.3" height="31.3" fill="#3ba458"/><rect x="1055.5" y="1565.6" width="46.3" height="31.3" fill="#74c476"/><rect x="1101.8" y="1565.6" width="46.3" height="31.3" fill="#74c476"/>
<rect x="963" y="1596.9" width="46.3" height="31.3" fill="#b8e3b2"/><rect x="1009.3" y="1596.9" width="46.3" height="31.3" fill="#a9dca3"/><rect x="1055.5" y="1596.9" width="46.3" height="31.3" fill="#55b567"/><rect x="1101.8" y="1596.9" width="46.3" height="31.3" fill="#359e53"/>
<rect x="963" y="1628.1" width="46.3" height="31.3" fill="#dff3da"/><rect x="1009.3" y="1628.1" width="46.3" height="31.3" fill="#e8f6e3"/><rect x="1055.5" y="1628.1" width="46.3" height="31.3" fill="#004a1e"/><rect x="1101.8" y="1628.1" width="46.3" height="31.3" fill="#359e53"/>
<rect x="963" y="1659.4" width="46.3" height="31.3" fill="#c0e6b9"/><rect x="1009.3" y="1659.4" width="46.3" height="31.3" fill="#3ba458"/><rect x="1055.5" y="1659.4" width="46.3" height="31.3" fill="#006d2c"/><rect x="1101.8" y="1659.4" width="46.3" height="31.3" fill="#e5f5e0"/>
<rect x="963" y="1690.7" width="46.3" height="31.3" fill="#eff9ec"/><rect x="1009.3" y="1690.7" width="46.3" height="31.3" fill="#dff3da"/><rect x="1055.5" y="1690.7" width="46.3" height="31.3" fill="#1e8541"/><rect x="1101.8" y="1690.7" width="46.3" height="31.3" fill="#6bbf70"/>
</g>
<g font-size="9" font-weight="bold" text-anchor="middle" fill="#222">
<text x="986" y="1522">0.34</text><text x="1032" y="1522">0.34</text><text x="1079" y="1522" fill="#fff">0.46</text><text x="1125" y="1522">0.38</text>
<text x="986" y="1553">0.41</text><text x="1032" y="1553" fill="#fff">0.43</text><text x="1079" y="1553">0.29</text><text x="1125" y="1553" fill="#fff">0.56</text>
<text x="986" y="1584" fill="#fff">0.46</text><text x="1032" y="1584" fill="#fff">0.46</text><text x="1079" y="1584">0.40</text><text x="1125" y="1584">0.40</text>
<text x="986" y="1616">0.32</text><text x="1032" y="1616">0.34</text><text x="1079" y="1616" fill="#fff">0.43</text><text x="1125" y="1616" fill="#fff">0.47</text>
<text x="986" y="1647">0.26</text><text x="1032" y="1647">0.24</text><text x="1079" y="1647" fill="#fff">0.59</text><text x="1125" y="1647" fill="#fff">0.47</text>
<text x="986" y="1678">0.31</text><text x="1032" y="1678" fill="#fff">0.46</text><text x="1079" y="1678" fill="#fff">0.55</text><text x="1125" y="1678">0.25</text>
<text x="986" y="1709">0.22</text><text x="1032" y="1709">0.26</text><text x="1079" y="1709" fill="#fff">0.51</text><text x="1125" y="1709" fill="#fff">0.41</text>
</g>
<g font-size="7.5" fill="#222" text-anchor="end">
<text x="959" y="1521">Question Fluency</text><text x="959" y="1552">Answer Fluency</text><text x="959" y="1584">Question Clarity</text><text x="959" y="1615">Answer Clarity</text><text x="959" y="1646">QA-Alignment</text><text x="959" y="1677">Question Mentorship</text><text x="959" y="1709">Answer Mentorship</text>
</g>
<g font-size="7.5" fill="#222" text-anchor="middle">
<text x="986" y="1733">Multi-Agent</text><text x="1032" y="1733">Single-Agent</text><text x="1079" y="1733">Dual-Agent</text><text x="1125" y="1733">RAG</text>
<text x="1055" y="1747" font-size="8">Model</text>
<text transform="translate(885,1612) rotate(-90)" font-size="8">Metric</text>
<text transform="translate(1194,1612) rotate(-90)" font-size="8">AC2</text>
</g>
<rect x="1161" y="1503" width="6" height="219" fill="url(#cbG)"/>
<g font-size="6" fill="#222"><text x="1170" y="1506">0.60</text><text x="1170" y="1533">0.55</text><text x="1170" y="1561">0.50</text><text x="1170" y="1588">0.45</text><text x="1170" y="1616">0.40</text><text x="1170" y="1643">0.35</text><text x="1170" y="1670">0.30</text><text x="1170" y="1698">0.25</text><text x="1170" y="1725">0.20</text></g>

<!-- HEATMAP 3 -->
<g>
<rect x="1340" y="1228" width="37.3" height="48.8" fill="#5ca4d0"/><rect x="1377.2" y="1228" width="37.3" height="48.8" fill="#64a9d3"/><rect x="1414.4" y="1228" width="37.3" height="48.8" fill="#87bddc"/><rect x="1451.7" y="1228" width="37.3" height="48.8" fill="#4b98ca"/><rect x="1488.9" y="1228" width="37.3" height="48.8" fill="#b0d2e8"/><rect x="1526.1" y="1228" width="37.3" height="48.8" fill="#5ca4d0"/><rect x="1563.3" y="1228" width="37.3" height="48.8" fill="#64a9d3"/><rect x="1600.6" y="1228" width="37.3" height="48.8" fill="#72b2d8"/><rect x="1637.8" y="1228" width="37.3" height="48.8" fill="#5ca4d0"/>
<rect x="1340" y="1276.7" width="37.3" height="48.8" fill="#bfd8ed"/><rect x="1377.2" y="1276.7" width="37.3" height="48.8" fill="#5ca4d0"/><rect x="1414.4" y="1276.7" width="37.3" height="48.8" fill="#64a9d3"/><rect x="1451.7" y="1276.7" width="37.3" height="48.8" fill="#bfd8ed"/><rect x="1488.9" y="1276.7" width="37.3" height="48.8" fill="#c6dbef"/><rect x="1526.1" y="1276.7" width="37.3" height="48.8" fill="#4594c7"/><rect x="1563.3" y="1276.7" width="37.3" height="48.8" fill="#64a9d3"/><rect x="1600.6" y="1276.7" width="37.3" height="48.8" fill="#3a8ac2"/><rect x="1637.8" y="1276.7" width="37.3" height="48.8" fill="#bfd8ed"/>
<rect x="1340" y="1325.4" width="37.3" height="48.8" fill="#cfe1f2"/><rect x="1377.2" y="1325.4" width="37.3" height="48.8" fill="#a9cee5"/><rect x="1414.4" y="1325.4" width="37.3" height="48.8" fill="#cfe1f2"/><rect x="1451.7" y="1325.4" width="37.3" height="48.8" fill="#d3e3f3"/><rect x="1488.9" y="1325.4" width="37.3" height="48.8" fill="#72b2d8"/><rect x="1526.1" y="1325.4" width="37.3" height="48.8" fill="#1864aa"/><rect x="1563.3" y="1325.4" width="37.3" height="48.8" fill="#4594c7"/><rect x="1600.6" y="1325.4" width="37.3" height="48.8" fill="#3f8fc4"/><rect x="1637.8" y="1325.4" width="37.3" height="48.8" fill="#eef5fc"/>
<rect x="1340" y="1374.1" width="37.3" height="48.8" fill="#3f8fc4"/><rect x="1377.2" y="1374.1" width="37.3" height="48.8" fill="#1864aa"/><rect x="1414.4" y="1374.1" width="37.3" height="48.8" fill="#2676b8"/><rect x="1451.7" y="1374.1" width="37.3" height="48.8" fill="#54a0cd"/><rect x="1488.9" y="1374.1" width="37.3" height="48.8" fill="#4b98ca"/><rect x="1526.1" y="1374.1" width="37.3" height="48.8" fill="#105ba4"/><rect x="1563.3" y="1374.1" width="37.3" height="48.8" fill="#1864aa"/><rect x="1600.6" y="1374.1" width="37.3" height="48.8" fill="#3383be"/><rect x="1637.8" y="1374.1" width="37.3" height="48.8" fill="#1864aa"/>
<rect x="1340" y="1422.8" width="37.3" height="48.8" fill="#9bc8e0"/><rect x="1377.2" y="1422.8" width="37.3" height="48.8" fill="#87bddc"/><rect x="1414.4" y="1422.8" width="37.3" height="48.8" fill="#9bc8e0"/><rect x="1451.7" y="1422.8" width="37.3" height="48.8" fill="#3383be"/><rect x="1488.9" y="1422.8" width="37.3" height="48.8" fill="#eef5fc"/><rect x="1526.1" y="1422.8" width="37.3" height="48.8" fill="#91c3df"/><rect x="1563.3" y="1422.8" width="37.3" height="48.8" fill="#91c3df"/><rect x="1600.6" y="1422.8" width="37.3" height="48.8" fill="#64a9d3"/><rect x="1637.8" y="1422.8" width="37.3" height="48.8" fill="#54a0cd"/>
<rect x="1340" y="1471.5" width="37.3" height="48.8" fill="#a2cce3"/><rect x="1377.2" y="1471.5" width="37.3" height="48.8" fill="#bfd8ed"/><rect x="1414.4" y="1471.5" width="37.3" height="48.8" fill="#1460a8"/><rect x="1451.7" y="1471.5" width="37.3" height="48.8" fill="#7db8da"/><rect x="1488.9" y="1471.5" width="37.3" height="48.8" fill="#c6dbef"/><rect x="1526.1" y="1471.5" width="37.3" height="48.8" fill="#3a8ac2"/><rect x="1563.3" y="1471.5" width="37.3" height="48.8" fill="#6baed6"/><rect x="1600.6" y="1471.5" width="37.3" height="48.8" fill="#1864aa"/><rect x="1637.8" y="1471.5" width="37.3" height="48.8" fill="#b0d2e8"/>
<rect x="1340" y="1520.2" width="37.3" height="48.8" fill="#08458a"/><rect x="1377.2" y="1520.2" width="37.3" height="48.8" fill="#083774"/><rect x="1414.4" y="1520.2" width="37.3" height="48.8" fill="#7db8da"/><rect x="1451.7" y="1520.2" width="37.3" height="48.8" fill="#7db8da"/><rect x="1488.9" y="1520.2" width="37.3" height="48.8" fill="#f7fbff"/><rect x="1526.1" y="1520.2" width="37.3" height="48.8" fill="#083774"/><rect x="1563.3" y="1520.2" width="37.3" height="48.8" fill="#08306b"/><rect x="1600.6" y="1520.2" width="37.3" height="48.8" fill="#084b93"/><rect x="1637.8" y="1520.2" width="37.3" height="48.8" fill="#084f99"/>
</g>
<g font-size="17" fill="#fff" text-anchor="middle">
<text x="1358.6" y="1258" textLength="24" lengthAdjust="spacingAndGlyphs">0.52</text><text x="1395.8" y="1258" textLength="24" lengthAdjust="spacingAndGlyphs">0.51</text><text x="1433" y="1258" textLength="24" lengthAdjust="spacingAndGlyphs">0.47</text><text x="1470.3" y="1258" textLength="24" lengthAdjust="spacingAndGlyphs">0.54</text><text x="1507.5" y="1258" fill="#222" textLength="24" lengthAdjust="spacingAndGlyphs">0.42</text><text x="1544.7" y="1258" textLength="24" lengthAdjust="spacingAndGlyphs">0.52</text><text x="1581.9" y="1258" textLength="24" lengthAdjust="spacingAndGlyphs">0.51</text><text x="1619.2" y="1258" textLength="24" lengthAdjust="spacingAndGlyphs">0.49</text><text x="1656.4" y="1258" textLength="24" lengthAdjust="spacingAndGlyphs">0.52</text>
<text x="1358.6" y="1307" fill="#222" textLength="24" lengthAdjust="spacingAndGlyphs">0.40</text><text x="1395.8" y="1307" textLength="24" lengthAdjust="spacingAndGlyphs">0.52</text><text x="1433" y="1307" textLength="24" lengthAdjust="spacingAndGlyphs">0.51</text><text x="1470.3" y="1307" fill="#222" textLength="24" lengthAdjust="spacingAndGlyphs">0.40</text><text x="1507.5" y="1307" fill="#222" textLength="24" lengthAdjust="spacingAndGlyphs">0.39</text><text x="1544.7" y="1307" textLength="24" lengthAdjust="spacingAndGlyphs">0.55</text><text x="1581.9" y="1307" textLength="24" lengthAdjust="spacingAndGlyphs">0.51</text><text x="1619.2" y="1307" textLength="24" lengthAdjust="spacingAndGlyphs">0.57</text><text x="1656.4" y="1307" fill="#222" textLength="24" lengthAdjust="spacingAndGlyphs">0.40</text>
<text x="1358.6" y="1356" fill="#222" textLength="24" lengthAdjust="spacingAndGlyphs">0.37</text><text x="1395.8" y="1356" fill="#222" textLength="24" lengthAdjust="spacingAndGlyphs">0.43</text><text x="1433" y="1356" fill="#222" textLength="24" lengthAdjust="spacingAndGlyphs">0.37</text><text x="1470.3" y="1356" fill="#222" textLength="24" lengthAdjust="spacingAndGlyphs">0.36</text><text x="1507.5" y="1356" textLength="24" lengthAdjust="spacingAndGlyphs">0.49</text><text x="1544.7" y="1356" textLength="24" lengthAdjust="spacingAndGlyphs">0.63</text><text x="1581.9" y="1356" textLength="24" lengthAdjust="spacingAndGlyphs">0.55</text><text x="1619.2" y="1356" textLength="24" lengthAdjust="spacingAndGlyphs">0.56</text><text x="1656.4" y="1356" fill="#222" textLength="24" lengthAdjust="spacingAndGlyphs">0.30</text>
<text x="1358.6" y="1404" textLength="24" lengthAdjust="spacingAndGlyphs">0.56</text><text x="1395.8" y="1404" textLength="24" lengthAdjust="spacingAndGlyphs">0.63</text><text x="1433" y="1404" textLength="24" lengthAdjust="spacingAndGlyphs">0.60</text><text x="1470.3" y="1404" textLength="24" lengthAdjust="spacingAndGlyphs">0.53</text><text x="1507.5" y="1404" textLength="24" lengthAdjust="spacingAndGlyphs">0.54</text><text x="1544.7" y="1404" textLength="24" lengthAdjust="spacingAndGlyphs">0.65</text><text x="1581.9" y="1404" textLength="24" lengthAdjust="spacingAndGlyphs">0.63</text><text x="1619.2" y="1404" textLength="24" lengthAdjust="spacingAndGlyphs">0.58</text><text x="1656.4" y="1404" textLength="24" lengthAdjust="spacingAndGlyphs">0.63</text>
<text x="1358.6" y="1453" fill="#222" textLength="24" lengthAdjust="spacingAndGlyphs">0.45</text><text x="1395.8" y="1453" textLength="24" lengthAdjust="spacingAndGlyphs">0.47</text><text x="1433" y="1453" fill="#222" textLength="24" lengthAdjust="spacingAndGlyphs">0.45</text><text x="1470.3" y="1453" textLength="24" lengthAdjust="spacingAndGlyphs">0.58</text><text x="1507.5" y="1453" fill="#222" textLength="24" lengthAdjust="spacingAndGlyphs">0.30</text><text x="1544.7" y="1453" textLength="24" lengthAdjust="spacingAndGlyphs">0.46</text><text x="1581.9" y="1453" textLength="24" lengthAdjust="spacingAndGlyphs">0.46</text><text x="1619.2" y="1453" textLength="24" lengthAdjust="spacingAndGlyphs">0.51</text><text x="1656.4" y="1453" textLength="24" lengthAdjust="spacingAndGlyphs">0.53</text>
<text x="1358.6" y="1502" fill="#222" textLength="24" lengthAdjust="spacingAndGlyphs">0.44</text><text x="1395.8" y="1502" fill="#222" textLength="24" lengthAdjust="spacingAndGlyphs">0.40</text><text x="1433" y="1502" textLength="24" lengthAdjust="spacingAndGlyphs">0.64</text><text x="1470.3" y="1502" textLength="24" lengthAdjust="spacingAndGlyphs">0.48</text><text x="1507.5" y="1502" fill="#222" textLength="24" lengthAdjust="spacingAndGlyphs">0.39</text><text x="1544.7" y="1502" textLength="24" lengthAdjust="spacingAndGlyphs">0.57</text><text x="1581.9" y="1502" textLength="24" lengthAdjust="spacingAndGlyphs">0.50</text><text x="1619.2" y="1502" textLength="24" lengthAdjust="spacingAndGlyphs">0.63</text><text x="1656.4" y="1502" fill="#222" textLength="24" lengthAdjust="spacingAndGlyphs">0.42</text>
<text x="1358.6" y="1551" textLength="24" lengthAdjust="spacingAndGlyphs">0.69</text><text x="1395.8" y="1551" textLength="24" lengthAdjust="spacingAndGlyphs">0.71</text><text x="1433" y="1551" textLength="24" lengthAdjust="spacingAndGlyphs">0.48</text><text x="1470.3" y="1551" textLength="24" lengthAdjust="spacingAndGlyphs">0.48</text><text x="1507.5" y="1551" fill="#222" textLength="24" lengthAdjust="spacingAndGlyphs">0.28</text><text x="1544.7" y="1551" textLength="24" lengthAdjust="spacingAndGlyphs">0.71</text><text x="1581.9" y="1551" textLength="24" lengthAdjust="spacingAndGlyphs">0.72</text><text x="1619.2" y="1551" textLength="24" lengthAdjust="spacingAndGlyphs">0.68</text><text x="1656.4" y="1551" textLength="24" lengthAdjust="spacingAndGlyphs">0.67</text>
</g>
<g font-size="16" fill="#222" text-anchor="end">
<text x="1335" y="1258" textLength="73" lengthAdjust="spacingAndGlyphs">Answer Clarity -</text>
<text x="1335" y="1307" textLength="80" lengthAdjust="spacingAndGlyphs">Answer Fluency -</text>
<text x="1335" y="1356" textLength="97" lengthAdjust="spacingAndGlyphs">Answer Mentorship -</text>
<text x="1335" y="1404" textLength="71" lengthAdjust="spacingAndGlyphs">QA-Alignment -</text>
<text x="1335" y="1453" textLength="82" lengthAdjust="spacingAndGlyphs">Question Clarity -</text>
<text x="1335" y="1502" textLength="88" lengthAdjust="spacingAndGlyphs">Question Fluency -</text>
<text x="1335" y="1551" textLength="106" lengthAdjust="spacingAndGlyphs">Question Mentorship -</text>
</g>
<g font-size="15" fill="#222" text-anchor="end" font-style="italic">
<text transform="translate(1362,1580) rotate(-55)">AyaExpanse</text>
<text transform="translate(1399,1580) rotate(-55)">Gemma3</text>
<text transform="translate(1436,1580) rotate(-55)">Llama3.2</text>
<text transform="translate(1473,1580) rotate(-55)">Mistral</text>
<text transform="translate(1510,1580) rotate(-55)">Pangea</text>
<text transform="translate(1548,1580) rotate(-55)">Phi-4</text>
<text transform="translate(1585,1580) rotate(-55)">Qwen2.5</text>
<text transform="translate(1622,1580) rotate(-55)">Qwen3</text>
<text transform="translate(1659,1580) rotate(-55)">RCommand</text>
</g>
<text x="1507" y="1671" font-size="16" fill="#222" text-anchor="middle" textLength="62" lengthAdjust="spacingAndGlyphs">LLM Judge</text>
<text transform="translate(1219,1400) rotate(-90)" font-size="16" fill="#222" text-anchor="middle">Metric</text>
<text transform="translate(1750,1400) rotate(-90)" font-size="15" fill="#222" text-anchor="middle">Score</text>
<rect x="1696" y="1228" width="11" height="341" fill="url(#cbB)"/>
<g font-size="13" fill="#222"><text x="1711" y="1249">0.70</text><text x="1711" y="1288">0.65</text><text x="1711" y="1326">0.60</text><text x="1711" y="1365">0.55</text><text x="1711" y="1404">0.50</text><text x="1711" y="1443">0.45</text><text x="1711" y="1481">0.40</text><text x="1711" y="1520">0.35</text><text x="1711" y="1559">0.30</text></g>
<rect x="1352" y="1682" width="372" height="70" fill="#f9efcb"/>
<g font-size="14" fill="#111">
<text x="1358" y="1694" textLength="274" lengthAdjust="spacingAndGlyphs"><tspan font-weight="bold">Top-left:</tspan> Model-wise metric performance.</text>
<text x="1358" y="1718" textLength="323" lengthAdjust="spacingAndGlyphs"><tspan font-weight="bold">Bottom-left:</tspan> Inter-Annotator Agreement by models.</text>
<text x="1358" y="1742" textLength="309" lengthAdjust="spacingAndGlyphs"><tspan font-weight="bold">Right:</tspan> AC2-Correlation between LLM and Human</text>
<text x="1358" y="1759">scores.</text>
</g>

<rect x="877" y="1769" width="840" height="17" fill="#ae4b3f"/>
<rect x="877" y="1946" width="840" height="100" fill="#f3f3f4"/>
<rect x="877" y="2156" width="840" height="170" fill="#f3f3f4"/>
<line x1="877" y1="1786" x2="877" y2="2326" stroke="#ddd"/>
<g font-size="11" fill="#fff" text-anchor="middle"><text x="917" y="1782">Language</text><text x="1060" y="1782">Dual Agent</text><text x="1266" y="1782">RAG</text><text x="1543" y="1782">Multi Agent with LLM Chunking</text></g>
<g font-size="11" fill="#555"><text x="880" y="1870">English</text><text x="880" y="2000">Romanian</text><text x="880" y="2105">Chinese</text><text x="880" y="2246">Hindi</text></g>
<text x="1285" y="2382" font-size="18" fill="#111" text-anchor="middle">Table 2. Sample multilingual QA pair per language and model.</text>
<rect x="1028" y="2402" width="685" height="59" rx="12" fill="#f9efcb" stroke="#888" stroke-width="1.2"/>
<circle cx="1064" cy="2425" r="30" fill="#fff"/>
<path d="M1050 2410 L1054 2401 L1060 2407 Q1064 2405 1068 2407 L1074 2401 L1078 2410 Q1082 2416 1080 2424 Q1076 2434 1068 2435 L1070 2450 H1058 L1059 2440 Q1052 2442 1048 2434 Q1054 2436 1058 2435 Q1048 2430 1048 2420 Q1048 2414 1050 2410Z" fill="#111"/>
<text x="1117" y="2441" font-family="Liberation Mono, monospace" font-size="23" font-weight="bold" fill="#111" text-decoration="underline" textLength="524" lengthAdjust="spacingAndGlyphs">https://github.com/AIM-SCU/Mentorship4All</text>
</svg>

<div class="c" style="left:963px;top:1811px;width:196px;"><b>Question</b>: What are some key strategies mentioned for making the most out of an ENLP conference?<br><br><b>Answer</b>: The key strategies mentioned for making the most out of an MLP conference include <span class="r">being prepared, actively engaging, and networking effectively</span>...</div>
<div class="c" style="left:1166px;top:1793px;width:200px;"><b>Question</b>: What are the key strategies for making the most out of a conference?<br><br><b>Answer</b>: The key strategies for making the most out of a conference include understanding what you want to achieve <span class="r">(e.g., networking for specific goals, meeting certain individuals, or staying updated on industry trends)</span>... Additionally, staying engaged and selective about which sessions to attend can enhance your experience.</div>
<div class="c" style="left:1375px;top:1789px;width:340px;"><b>Question</b>: "How can one effectively network at a conference for specific professional objectives?",<br><br><b>Answer</b>: "... <span class="g">To effectively network</span> for specific professional objectives, one must first define what they aim to achieve...<br>...Finding a 'navigator'—someone who can guide through the vast conference landscape. <span class="g">By identifying key speakers or researchers whose work aligns</span> with one's interests, ... maximize the networking experience... Building relationships early on can lead to <span class="g">future collaborations and opportunities.</span><br><span class="g">In summary, effective networking</span> ... requires setting clear objectives, ... engaging with peers... whose work resonates with one's professional aspirations."</div>

<div class="c" style="left:963px;top:1948px;width:196px;"><b>Question</b>: Care a fost rolul înălțimii în performanța lui în sport?<br><br><b>Answer</b>: <span class="r">Înălțimea a fost un factor important pentru a fi centru în volei</span>, deoarece ajută la stabilitatea și echilibrul pe care trebuie să-l mențină atletul în timpul jocului.</div>
<div class="c" style="left:1166px;top:1948px;width:200px;"><b>Question</b>: Cum arată liderul care poate aduce oamenii împreună într-o organizație?<br><br><b>Answer</b>: Liderul care poate aduce oamenii împreună într-o organizație trebuie să aibă capacitatea de a interacționa rapid și eficient fără să creadă o barieră ...</div>
<div class="c" style="left:1375px;top:1948px;width:340px;"><b>Question</b>: În ce măsură o schimbare de misiune poate contribui la amplificarea unor operațiuni?<br><br><b>Answer</b>: O schimbare de misiune poate contribui la amplificarea unor operațiuni <span class="g">prin consolidarea încrederii și deosebitelor credibilități în cadrul unei echipe sau a unui grup. Astfel, când o misiune este clară și încurajă încrederea într-un scop comun</span>, aceasta oferă o bază solidă pentru creșterea eficienței și a performanțelor operaționilor...</div>

<div class="c" style="left:963px;top:2050px;width:196px;"><b>Question</b>: "客户在五年内如何实现了存款从零到超过两百万元的增长？",<br><br><b>Answer</b>: "客户在五年内通过增加收入和合理的理财规划，成功地将初始资产一万四千块提升至两百多万。这表明，即使起点较低，只要坚持<span class="r">储蓄和投资</span>，也可以实现财富增长。"</div>
<div class="c" style="left:1166px;top:2050px;width:200px;"><b>Question</b>: "<b>存钱的目的究竟是什么？</b>",<br><br><b>Answer</b>: "存钱的目的并不是单纯为了储蓄，而是<span class="r">为了维持退休后的稳定生活品质</span>。通过合理的理财规划，...并且不会因为收入波动而感到财务上的巨大压力或不确定性。存钱是为了让生活更有<span class="r">保障</span>，而不是为了强迫自己牺牲当下的生活质量。"</div>
<div class="c" style="left:1375px;top:2056px;width:340px;"><b>Question</b>: "怎样才能知道自己在二十几岁时的<b>财务状况</b>？",<br><br><b>Answer</b>: "要在二十几岁时了解自己的财务状况，首先需要<span class="g">记录所有的收入和支出</span>，这包括日常开销、储蓄以及任何额外的收入来源...此外，<span class="g">定期检查银行账户和投资账户</span>，确保所有交易都符合预期，并且没有未授权的费用或支出。最后，与专业人士如理财顾问交谈，可以帮助更好地<span class="g">理解自己的财务状况并制定未来的计划</span>。"</div>

<div class="c hi" style="left:963px;top:2194px;width:196px;"><b>Question</b>: मेलाटोनिन के साइड एफेक्ट क्या हो सकते हैं?<br><br><b>Answer</b>: मेलाटोनिन के साइड एफेक्ट वह हो सकते हैं जो <span class="r">इंडोगेनस मेलाटोनिन</span> को डिस्टर्ब करके ब्राइन में प्रभाव पहुंचाते हैं।</div>
<div class="c hi" style="left:1166px;top:2159px;width:200px;"><b>Question</b>: अल्कोहल के खराब असरों को रोकने के लिए क्या करना चाहिए?<br><br><b>Answer</b>: ... अधिकतम रूप से <span class="r">अल्कोहल की खासखास रूप से अतिरिक्त खाने से बचें</span>। अगर आपको अल्कोहल पीना पड़ता है, तो आपकी सामान्य आदतों में इसकी सीमा निर्धारित करें। यह सुनिश्चित करें कि आप <span class="r">अल्कोहल की खासखास रूप से अतिरिक्त खाने से बचें</span> और अपनी ब्राइन और शरीर की स्वास्थ्य की रक्षा करें।</div>
<div class="c hi" style="left:1375px;top:2159px;width:340px;"><b>Question</b>: वायु प्रदूषण के फलस्वरूप व्यक्ति को कैसे सुरक्षित रखा जा सकता है?<br><br><b>Answer</b>: ... निम्नलिखित चीजें अनिवार्य हैं:<br><span class="g">1. घर में वायु सफाईकर रखना:</span> ...वायुमानिक प्रदूषण को कम कर सकते हैं।<br><span class="g">2. अपने कार्यालय में भी वायु सफाईकर</span> रखना: यह बड़े शहरों ..., बल्कि आसपास से सब पर प्रभावित करता है।<br><span class="g">3. निश्चित सीमा तक वायु सफाईकर</span> का उपयोग करना...वायु प्रदूषण से प्रभावित हो सकते हैं।<br><span class="g">4. शहरों के बाहर जाने पर वायु</span> सफाईकर का उपयोग करना ...के बाहर जाना चाहिए जहाँ वायु प्रदूषण कम हो सकता है।</div>
</div></body></html>
